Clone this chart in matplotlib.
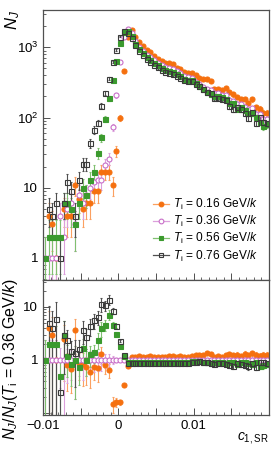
import numpy as np
import matplotlib
matplotlib.use("Agg")
import matplotlib.pyplot as plt
from matplotlib.lines import Line2D
from matplotlib.ticker import FixedLocator, FuncFormatter, LogLocator, NullFormatter

plt.rcParams['font.family'] = ['Liberation Sans', 'DejaVu Sans']
plt.rcParams['mathtext.fontset'] = 'custom'
plt.rcParams['mathtext.rm'] = 'Liberation Sans'
plt.rcParams['mathtext.it'] = 'Liberation Sans:italic'

# ---------------- data ----------------
x_min, x_max, n_bins = -0.01, 0.02, 60
temperatures = ["0.16", "0.36", "0.56", "0.76"]

counts_016 = [0, 4, 3, 1, 0, 5, 4, 4, 11, 7, 5, 6, 6, 9, 9, 17, 17, 17, 11, 33, 100, 458, 1400,
              1770, 1400, 1205, 1045, 906, 857, 751, 675, 638, 604, 604, 571, 512, 495, 444, 435,
              435, 398, 370, 349, 349, 330, 257, 257, 246, 265, 230, 213, 198, 185, 185, 162, 181,
              140, 133, 117, 117]
counts_036 = [1, 1, 1, 1, 4, 2, 5, 6, 3, 8, 6, 8, 10, 12, 13, 13, 21, 26, 73, 206, 625, 1380, 1840,
              1580, 1230, 1020, 900, 790, 720, 655, 600, 555, 522, 500, 485, 455, 425, 390, 375,
              362, 325, 300, 275, 255, 250, 225, 220, 212, 210, 180, 172, 158, 155, 142, 132, 135,
              112, 112, 95, 95]
counts_056 = [1, 2, 2, 2, 2, 6, 6, 5, 3, 6, 10, 8, 13, 17, 31, 52, 96, 187, 338, 632, 1140, 1675, 1700,
              1470, 1132, 938, 819, 727, 662, 596, 552, 505, 480, 455, 446, 414, 391, 359, 341,
              344, 312, 285, 253, 230, 218, 203, 202, 197, 185, 162, 160, 134, 143, 128, 116, 115,
              103, 87, 76, 81]
counts_076 = [0, 5, 4, 6, 1, 6, 12, 9, 4, 13, 22, 22, 43, 67, 84, 148, 225, 357, 616, 906, 1420, 1710, 1600,
              1375, 1070, 887, 774, 687, 626, 563, 522, 483, 449, 435, 417, 396, 370, 343, 326,
              333, 302, 282, 256, 230, 220, 191, 189, 184, 179, 144, 131, 139, 132, 116, 100, 119,
              84, 101, 87, 84]

series = [counts_016, counts_036, counts_056, counts_076]
reference_index = 1

# ---------------- style ----------------
styles = [
    dict(marker='o', mfc='#f5700f', mec='#f5700f', color='#f5700f', ecol='#fba060'),
    dict(marker='o', mfc='white', mec='#c86ec8', color='#c86ec8', ecol='#dca0dc'),
    dict(marker='s', mfc='#3b9a2e', mec='#3b9a2e', color='#3b9a2e', ecol='#80c070'),
    dict(marker='s', mfc='none', mec='#3a3a3a', color='#3a3a3a', ecol='#505050'),
]

edges = np.linspace(x_min, x_max, n_bins + 1)
centers = 0.5 * (edges[1:] + edges[:-1])
half_w = 0.5 * (edges[1] - edges[0])

fig = plt.figure(figsize=(2.78, 4.50), dpi=100)
ax1 = fig.add_axes([43/278, 1 - 280/450, 226/278, 270/450])
ax2 = fig.add_axes([43/278, 1 - 415/450, 226/278, 135/450])

ref = np.asarray(series[reference_index], dtype=float)
handles = []
for i, (vals, st, T) in enumerate(zip(series, styles, temperatures)):
    n = np.asarray(vals, dtype=float)
    m = n > 0
    ax1.errorbar(centers[m], n[m], yerr=np.sqrt(n[m]),
                 fmt=st['marker'], ms=3.6, mfc=st['mfc'], mec=st['mec'], mew=0.8,
                 ecolor=st['ecol'], elinewidth=0.8, capsize=1.0, capthick=0.6)
    handles.append(Line2D([], [], color=st['ecol'], lw=0.9, marker=st['marker'], ms=3.4,
                          mfc=st['mfc'], mec=st['mec'], mew=0.8))
    mr = m & (ref > 0)
    r = n[mr] / ref[mr]
    rerr = r * np.sqrt(1.0 / n[mr] + 1.0 / ref[mr])
    ax2.errorbar(centers[mr], r, yerr=rerr, xerr=(half_w if i == reference_index else None),
                 fmt=st['marker'], ms=3.6, mfc=st['mfc'], mec=st['mec'], mew=0.8,
                 ecolor=st['ecol'], elinewidth=0.8, capsize=1.0, capthick=0.6)

for ax in (ax1, ax2):
    ax.set_yscale('log')
    ax.set_xlim(x_min, x_max)
    for s in ax.spines.values():
        s.set_color('#505050')
        s.set_linewidth(0.9)
    ax.tick_params(which='both', direction='in', colors='#505050', labelcolor='black',
                   labelsize=9.5, top=False, right=False)
    ax.tick_params(which='major', length=5, width=0.7)
    ax.tick_params(which='minor', length=2.5, width=0.6)
    ax.xaxis.set_major_locator(FixedLocator(np.arange(-0.01, 0.0201, 0.005)))
    ax.xaxis.set_minor_locator(FixedLocator(np.arange(-0.01, 0.0201, 0.001)))

ax1.set_ylim(0.485, 3400)
ax2.set_ylim(0.0917, 32.3)


def ylab(v, pos):
    if v == 1:
        return '1'
    if v == 10:
        return '10'
    e = int(round(np.log10(v)))
    return r'$10^{%d}$' % e


ax1.yaxis.set_major_locator(FixedLocator([1, 10, 100, 1000]))
ax1.yaxis.set_major_formatter(FuncFormatter(ylab))
ax1.yaxis.set_minor_locator(LogLocator(base=10, subs=np.arange(2, 10)))
ax1.yaxis.set_minor_formatter(NullFormatter())
ax2.yaxis.set_major_locator(FixedLocator([0.1, 1, 10]))
ax2.yaxis.set_major_formatter(FuncFormatter(lambda v, p: '1' if v == 1 else ('10' if v == 10 else '')))
ax2.yaxis.set_minor_locator(LogLocator(base=10, subs=np.arange(2, 10)))
ax2.yaxis.set_minor_formatter(NullFormatter())

ax1.xaxis.set_major_formatter(FuncFormatter(lambda v, p: ''))


def xlab(v, pos):
    if abs(v) < 1e-9:
        return '0'
    if abs(v + 0.01) < 1e-9:
        return '\u22120.01'
    if abs(v - 0.01) < 1e-9:
        return '0.01'
    return ''


ax2.xaxis.set_major_formatter(FuncFormatter(xlab))

ax1.set_ylabel(r'$N_{J}$', fontsize=12, loc='top')
ax1.yaxis.set_label_coords(-0.095, 1.0)
ax2.set_ylabel(r'$N_{J}/N_{J}(T_{\mathrm{i}}$ = 0.36 GeV/$k$)', fontsize=11.5, loc='top')
ax2.yaxis.set_label_coords(-0.10, 1.02)
ax2.set_xlabel(r'$c_{1,\mathrm{SR}}$', fontsize=10, loc='right', labelpad=-1)

leg = ax1.legend(handles,
                 [r'$T_{\mathrm{i}}$ = %s GeV/$k$' % T for T in temperatures],
                 loc='lower right', bbox_to_anchor=(0.99, 0.03), frameon=False,
                 fontsize=8.6, handlelength=1.3, handletextpad=0.4, labelspacing=0.18,
                 borderpad=0.2)

fig.savefig('out.png', dpi=100)
